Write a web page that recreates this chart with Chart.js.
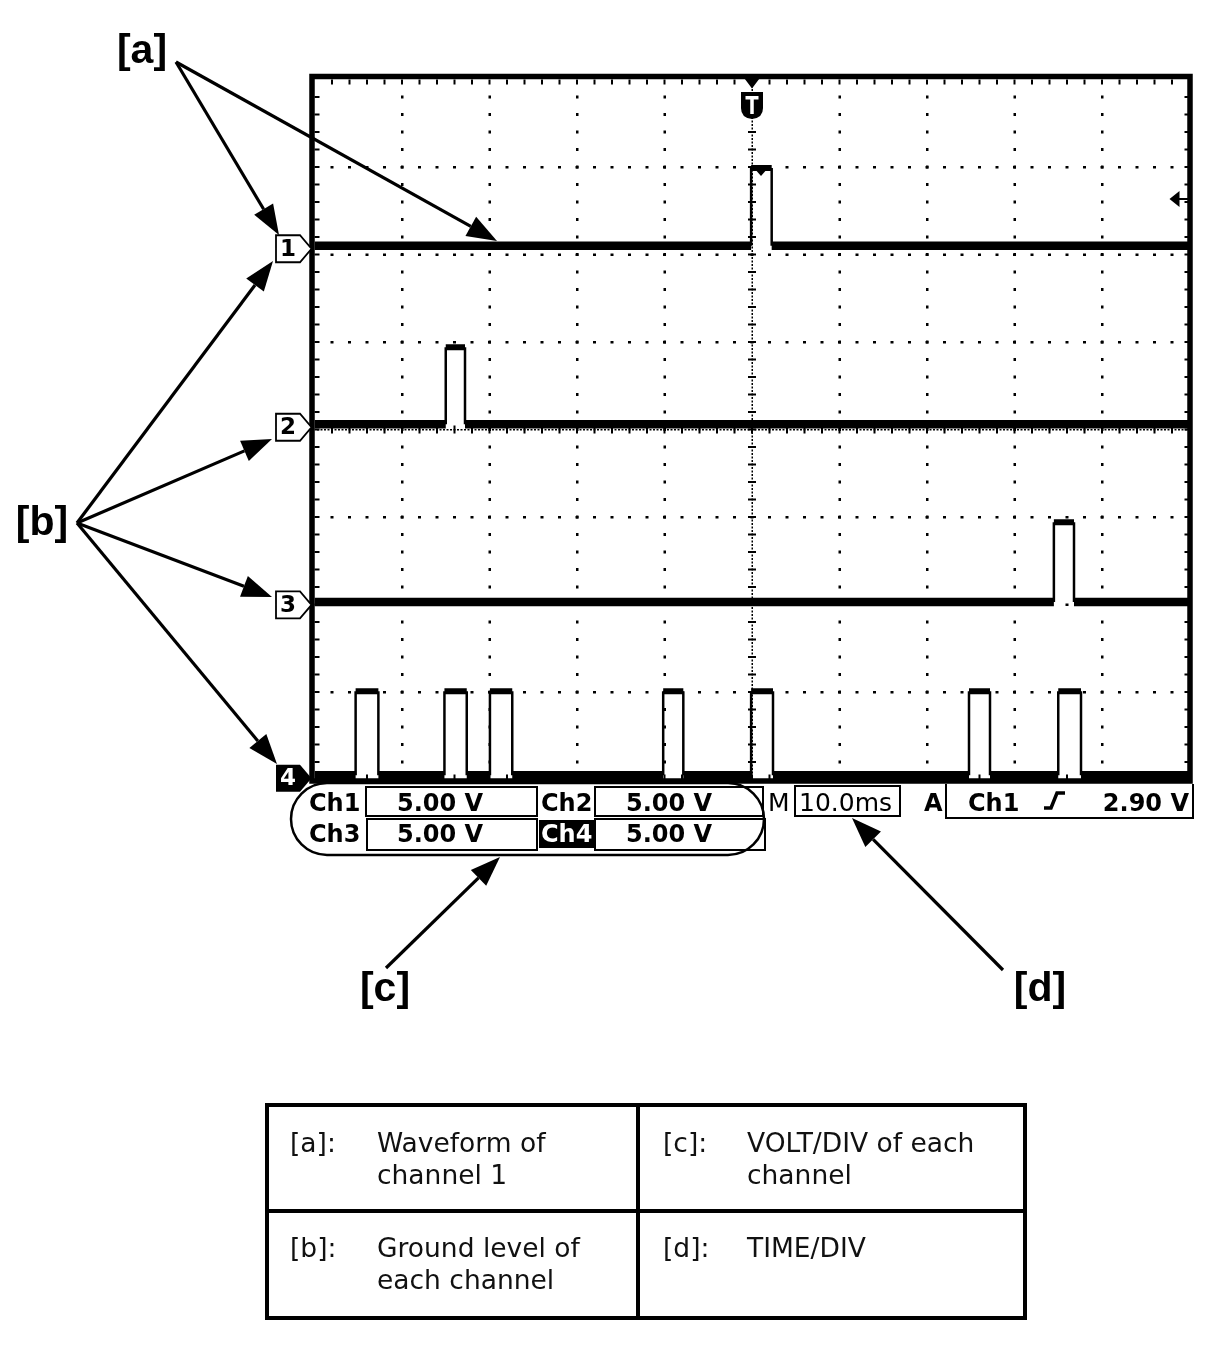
<!DOCTYPE html>
<html><head><meta charset="utf-8">
<script src="https://cdn.jsdelivr.net/npm/chart.js@4.4.0/dist/chart.umd.min.js"></script>
<style>html,body{margin:0;padding:0;background:#fff;}#wrap{position:relative;width:1216px;height:1346px;}</style>
</head><body><div id="wrap"><canvas id="c" width="1216" height="1346"></canvas></div>
<script>
// ---- data ----
const channelNames = ['1', '2', '3', '4'];
const groundDiv = [6.10, 4.06, 2.03, 0.05];      // ground level of each channel, in divisions
const pulseHighV = [4.45, 4.40, 4.55, 4.80];      // pulse amplitude, volts
const ch1Pulses = [[49.9, 52.25]];                // [start ms, end ms]
const ch2Pulses = [[15.0, 17.2]];
const ch3Pulses = [[84.5, 86.8]];
const ch4Pulses = [[4.7, 7.3], [14.85, 17.4], [20.05, 22.6], [39.85, 42.15], [49.9, 52.4], [74.8, 77.2], [85.0, 87.6]];
const voltsPerDiv = 5.0;
const timeRangeMs = [0, 100];
const divRange = [0, 8];
const xDivs = 10;
const triggerTimeMs = 50;
const triggerLevelV = 2.90;
const statusRow1 = ['Ch1', '5.00 V', 'Ch2', '5.00 V'];
const statusRow2 = ['Ch3', '5.00 V', 'Ch4', '5.00 V'];
const timebaseLabel = '10.0ms';
const triggerSource = 'Ch1';
const triggerLevelLabel = '2.90 V';
const calloutLabels = ['[a]', '[b]', '[c]', '[d]'];
const tableKeys = ['[a]:', '[c]:', '[b]:', '[d]:'];
const tableText = [['Waveform of', 'channel 1'], ['VOLT/DIV of each', 'channel'], ['Ground level of', 'each channel'], ['TIME/DIV', '']];

const allPulses = [ch1Pulses, ch2Pulses, ch3Pulses, ch4Pulses];

function buildTrace(pulses, g, hv) {
  const hi = g + hv / voltsPerDiv;
  const pts = [{x: timeRangeMs[0], y: g}];
  for (const [a, b] of pulses) {
    pts.push({x: a, y: g}, {x: a, y: hi}, {x: b, y: hi}, {x: b, y: g});
  }
  pts.push({x: timeRangeMs[1], y: g});
  return pts;
}

const datasets = channelNames.map((n, i) => {
  const g = groundDiv[i];
  return {
    label: 'Ch' + n,
    data: buildTrace(allPulses[i], g, pulseHighV[i]),
    borderColor: '#000',
    borderWidth: 3,
    pointRadius: 0,
    tension: 0,
    fill: false,
    segment: {
      borderWidth: ctx => (ctx.p0.parsed.x === ctx.p1.parsed.x) ? 2.5 : (ctx.p0.parsed.y > g + 0.01 ? 6 : 8.5)
    }
  };
});

function arrow(ctx, x1, y1, x2, y2, head, hw, lw) {
  head = head || 30; hw = hw || 11; lw = lw || 3.2;
  const a = Math.atan2(y2 - y1, x2 - x1);
  const bx = x2 - head * Math.cos(a), by = y2 - head * Math.sin(a);
  ctx.lineWidth = lw;
  ctx.beginPath(); ctx.moveTo(x1, y1); ctx.lineTo(bx, by); ctx.stroke();
  ctx.beginPath(); ctx.moveTo(x2, y2);
  ctx.lineTo(bx + hw * Math.sin(a), by - hw * Math.cos(a));
  ctx.lineTo(bx - hw * Math.sin(a), by + hw * Math.cos(a));
  ctx.closePath(); ctx.fill();
}

const gridPlugin = {
  id: 'scopeGrid',
  beforeDatasetsDraw(chart) {
    const {ctx, chartArea: ca} = chart;
    const xs = chart.scales.x, ys = chart.scales.y;
    ctx.save();
    ctx.fillStyle = '#000';
    const xStep = (timeRangeMs[1] - timeRangeMs[0]) / xDivs;
    for (let i = 1; i < xDivs; i++) {
      const x = xs.getPixelForValue(i * xStep);
      for (let j = 1; j < divRange[1] * 5; j++) {
        const y = ys.getPixelForValue(j * 0.2);
        if (i === xDivs / 2) ctx.fillRect(x - 4, y - 1, 8, 2);
        else ctx.fillRect(x - 1, y - 1.5, 2.5, 3);
      }
      if (i === xDivs / 2) {
        for (let j = 1; j < divRange[1] * 25; j++) {
          const y = ys.getPixelForValue(j * 0.04);
          ctx.fillRect(x - 0.5, y - 1, 1.5, 2);
        }
      }
    }
    for (let j = 1; j < divRange[1]; j++) {
      const y = ys.getPixelForValue(j);
      for (let i = 1; i < xDivs * 5; i++) {
        const x = xs.getPixelForValue(i * xStep / 5);
        if (j === divRange[1] / 2) ctx.fillRect(x - 1, y - 4, 2, 8);
        else ctx.fillRect(x - 1.5, y - 1, 3, 2.5);
      }
      if (j === divRange[1] / 2) {
        for (let i = 1; i < xDivs * 25; i++) {
          const x = xs.getPixelForValue(i * xStep / 25);
          ctx.fillRect(x - 1, y - 0.5, 2, 1.5);
        }
      }
    }
    for (let i = 1; i < xDivs * 5; i++) {
      const x = xs.getPixelForValue(i * xStep / 5);
      ctx.fillRect(x - 1, ca.top, 2, 5);
      ctx.fillRect(x - 1, ca.bottom - 5, 2, 5);
    }
    for (let j = 1; j < divRange[1] * 5; j++) {
      const y = ys.getPixelForValue(j * 0.2);
      ctx.fillRect(ca.left, y - 1, 5, 2);
      ctx.fillRect(ca.right - 5, y - 1, 5, 2);
    }
    ctx.restore();
  }
};

const annoPlugin = {
  id: 'scopeAnno',
  afterDraw(chart) {
    const {ctx, chartArea: ca} = chart;
    const xs = chart.scales.x, ys = chart.scales.y;
    ctx.save();
    ctx.strokeStyle = '#000'; ctx.fillStyle = '#000';
    ctx.lineWidth = 5.5;
    ctx.strokeRect(ca.left - 2.5, ca.top - 3, ca.right - ca.left + 3, ca.bottom - ca.top + 4.5);

    // trigger position marker (T)
    const tx = xs.getPixelForValue(triggerTimeMs);
    ctx.beginPath(); ctx.moveTo(tx - 9, ca.top - 3); ctx.lineTo(tx + 9, ca.top - 3); ctx.lineTo(tx, ca.top + 9); ctx.closePath(); ctx.fill();
    ctx.beginPath();
    ctx.moveTo(tx - 11, 92); ctx.lineTo(tx + 11, 92); ctx.lineTo(tx + 11, 108);
    ctx.quadraticCurveTo(tx + 11, 118, tx, 119); ctx.quadraticCurveTo(tx - 11, 118, tx - 11, 108); ctx.closePath(); ctx.fill();
    ctx.fillStyle = '#fff';
    ctx.fillRect(tx - 6.5, 96, 13, 3.5); ctx.fillRect(tx - 1.75, 96, 3.5, 18);
    ctx.fillStyle = '#000';
    const py = ys.getPixelForValue(groundDiv[0] + pulseHighV[0] / voltsPerDiv);
    ctx.beginPath(); ctx.moveTo(tx + 2, py); ctx.lineTo(tx + 16, py); ctx.lineTo(tx + 9, py + 8); ctx.closePath(); ctx.fill();

    // trigger level marker at right
    const ly = ys.getPixelForValue(groundDiv[0] + triggerLevelV / voltsPerDiv) + 4;
    ctx.beginPath(); ctx.moveTo(ca.right - 20, ly); ctx.lineTo(ca.right - 10, ly - 8); ctx.lineTo(ca.right - 10, ly + 8); ctx.closePath(); ctx.fill();
    ctx.lineWidth = 2; ctx.beginPath(); ctx.moveTo(ca.right - 12, ly); ctx.lineTo(ca.right, ly); ctx.stroke();

    // channel ground markers
    channelNames.forEach((n, i) => {
      const y = ys.getPixelForValue(groundDiv[i]) + 3;
      const l = 276, r = 300, tip = ca.left - 3;
      ctx.beginPath();
      ctx.moveTo(l, y - 13.5); ctx.lineTo(r, y - 13.5); ctx.lineTo(tip, y); ctx.lineTo(r, y + 13.5); ctx.lineTo(l, y + 13.5); ctx.closePath();
      if (i === 3) { ctx.fillStyle = '#000'; ctx.fill(); ctx.fillStyle = '#fff'; }
      else { ctx.fillStyle = '#fff'; ctx.fill(); ctx.lineWidth = 1.8; ctx.stroke(); ctx.fillStyle = '#000'; }
      ctx.font = 'bold 23px "DejaVu Sans"'; ctx.textAlign = 'center'; ctx.textBaseline = 'middle';
      ctx.fillText(n, 288, y + 1);
      ctx.fillStyle = '#000';
    });

    // status bar
    ctx.textAlign = 'left'; ctx.textBaseline = 'alphabetic';
    ctx.lineWidth = 2;
    const boxes = [[366, 787, 171, 29], [595, 787, 168, 29], [367, 819, 170, 31], [595, 819, 170, 31]];
    boxes.forEach(b => ctx.strokeRect(b[0], b[1], b[2], b[3]));
    ctx.font = 'bold 24px "DejaVu Sans"';
    ctx.fillText(statusRow1[0], 309, 811);
    ctx.fillText(statusRow1[1], 397, 811);
    ctx.fillText(statusRow1[2], 541, 811);
    ctx.fillText(statusRow1[3], 626, 811);
    ctx.fillText(statusRow2[0], 309, 842);
    ctx.fillText(statusRow2[1], 397, 842);
    ctx.fillRect(539, 820, 55, 28);
    ctx.fillStyle = '#fff'; ctx.fillText(statusRow2[2], 541, 842); ctx.fillStyle = '#000';
    ctx.fillText(statusRow2[3], 626, 842);
    ctx.lineWidth = 2.5;
    ctx.beginPath(); ctx.roundRect(291, 783, 473, 72, 36); ctx.stroke();
    ctx.font = '25px "DejaVu Sans"';
    ctx.fillText('M', 768, 811);
    ctx.lineWidth = 2;
    ctx.strokeRect(795, 786, 105, 30);
    ctx.fillText(timebaseLabel, 799, 811);
    ctx.font = 'bold 24px "DejaVu Sans"';
    ctx.fillText('A', 924, 811);
    ctx.beginPath(); ctx.moveTo(946, 784); ctx.lineTo(946, 818); ctx.lineTo(1193, 818); ctx.lineTo(1193, 784); ctx.stroke();
    ctx.fillText(triggerSource, 968, 811);
    ctx.lineWidth = 3.5;
    ctx.beginPath(); ctx.moveTo(1044, 808); ctx.lineTo(1051, 808); ctx.lineTo(1057, 793); ctx.lineTo(1065, 793); ctx.stroke();
    ctx.textAlign = 'right';
    ctx.fillText(triggerLevelLabel, 1189, 811);

    // callout labels and arrows
    ctx.font = 'bold 41px "Liberation Sans"'; ctx.textAlign = 'center'; ctx.textBaseline = 'middle';
    ctx.fillText(calloutLabels[0], 142, 52);
    ctx.fillText(calloutLabels[1], 42, 524);
    ctx.fillText(calloutLabels[2], 385, 990);
    ctx.fillText(calloutLabels[3], 1040, 990);
    arrow(ctx, 176, 62, 279, 235);
    arrow(ctx, 176, 62, 497, 241);
    arrow(ctx, 77, 523, 273, 261);
    arrow(ctx, 77, 523, 272, 439);
    arrow(ctx, 77, 523, 272, 597);
    arrow(ctx, 77, 523, 277, 764);
    arrow(ctx, 386, 968, 500, 857);
    arrow(ctx, 1003, 970, 852, 818);

    // legend table
    ctx.lineWidth = 4;
    ctx.strokeRect(267, 1105, 758, 213);
    ctx.beginPath(); ctx.moveTo(638, 1105); ctx.lineTo(638, 1318); ctx.moveTo(267, 1211); ctx.lineTo(1025, 1211); ctx.stroke();
    ctx.font = '26.5px "DejaVu Sans"'; ctx.textAlign = 'left'; ctx.textBaseline = 'middle'; ctx.fillStyle = '#111';
    const cellPos = [[290, 377, 1145], [663, 747, 1145], [290, 377, 1250], [663, 747, 1250]];
    cellPos.forEach((p, k) => {
      ctx.fillText(tableKeys[k], p[0], p[2]);
      ctx.fillText(tableText[k][0], p[1], p[2]);
      if (tableText[k][1]) ctx.fillText(tableText[k][1], p[1], p[2] + 32);
    });
    ctx.restore();
  }
};

new Chart(document.getElementById('c'), {
  type: 'line',
  data: {datasets},
  options: {
    responsive: false,
    animation: false,
    devicePixelRatio: 1,
    layout: {padding: {left: 314.5, right: 26.5, top: 79.5, bottom: 566.5}},
    plugins: {legend: {display: false}, tooltip: {enabled: false}},
    scales: {
      x: {type: 'linear', min: timeRangeMs[0], max: timeRangeMs[1], display: false},
      y: {type: 'linear', min: divRange[0], max: divRange[1], display: false}
    }
  },
  plugins: [gridPlugin, annoPlugin]
});
</script>
</body></html>
